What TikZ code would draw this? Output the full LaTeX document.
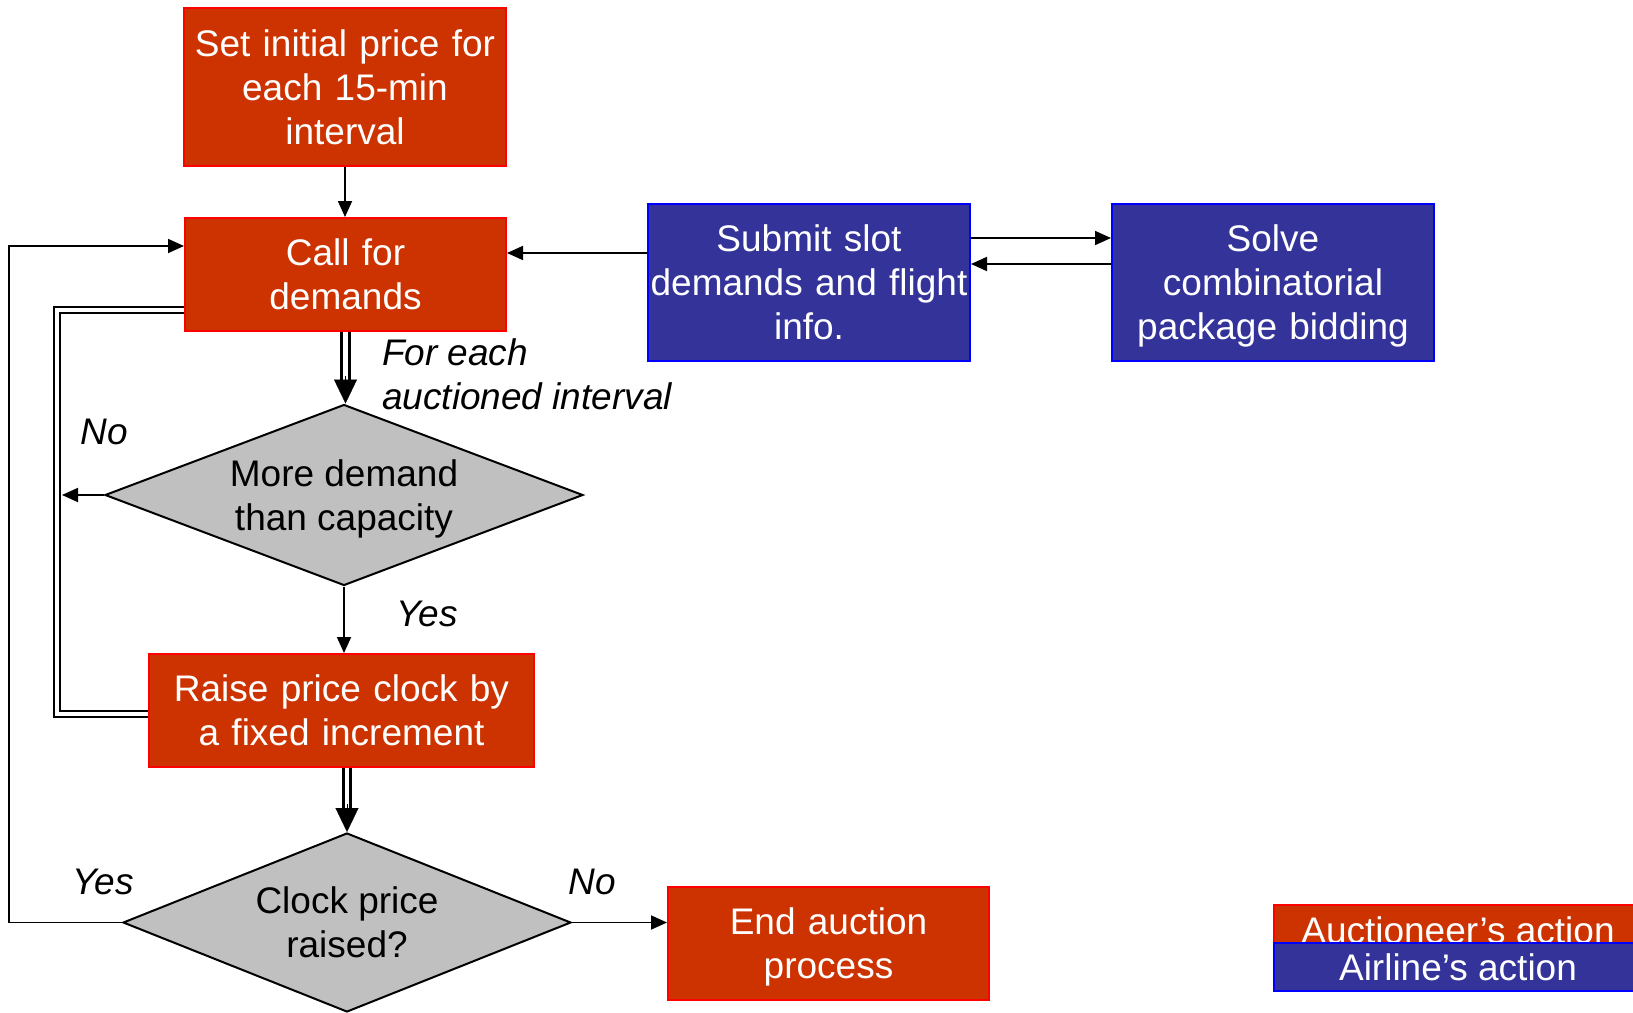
\documentclass[tikz,border=0pt]{standalone}
\usepackage{fontspec}
\setmainfont{Liberation Sans}
\usetikzlibrary{arrows.meta,shapes.geometric}
\definecolor{auctred}{HTML}{CC3300}
\definecolor{airblue}{HTML}{333399}
\definecolor{decgray}{HTML}{C0C0C0}
% last line without depth, so descenders do not lift the text block
\newcommand\nodp[1]{\raisebox{0pt}[\height][0pt]{#1}}
\tikzset{
  txt/.style={font=\fontsize{18.5}{22}\selectfont},
  redbox/.style={txt, rectangle, fill=auctred, draw=red, line width=1pt,
    text=white, align=center, inner sep=1pt},
  bluebox/.style={txt, rectangle, fill=airblue, draw=blue, line width=1pt,
    text=white, align=center, inner sep=1pt},
  decision/.style={txt, diamond, fill=decgray, draw=black, line width=1pt,
    align=center, inner sep=0pt, shape aspect=2.6},
  conn/.style={line width=0.9pt, -{Triangle[length=8pt,width=7pt]}},
  dblline/.style={double, double distance=2.2pt, line width=0.85pt},
  dblshaft/.style={double, double distance=2.3pt, line width=1.4pt},
  bigtip/.style={line width=0.1pt, -{Triangle[length=12pt,width=11.5pt]}},
  lbl/.style={txt, font=\fontsize{18.5}{22}\selectfont\itshape}
}
\begin{document}
\begin{tikzpicture}[x=0.5pt,y=-0.5pt]
\clip (0,0) rectangle (1633,1012);

% process boxes
\node[redbox, minimum width=161pt, minimum height=79pt, text width=157pt] (b1) at (345,87)
  {Set initial price for\\each 15-min\\interval};
\node[redbox, minimum width=160.5pt, minimum height=56.5pt, text width=157pt] (b2) at (345.5,274.5)
  {Call for\\demands};
\node[bluebox, minimum width=161pt, minimum height=78.5pt, text width=159pt] (sub) at (809,282.5)
  {Submit slot\\demands and flight\\info.};
\node[bluebox, minimum width=161pt, minimum height=78.5pt, text width=159pt] (sol) at (1273,282.5)
  {Solve\\combinatorial\\\nodp{package bidding}};
\node[decision, minimum width=239pt, minimum height=90.5pt] (d1) at (344,495)
  {More demand\\\nodp{than capacity}};
\node[redbox, minimum width=192.5pt, minimum height=56.5pt, text width=189pt] (raise) at (341.5,710.5)
  {Raise price clock by\\a fixed increment};
\node[decision, minimum width=224pt, minimum height=89.5pt] (d2) at (347,922.5)
  {Clock price\\raised?};
\node[redbox, minimum width=160.5pt, minimum height=56.5pt, text width=157pt] (endb) at (828.5,943.5)
  {End auction\\\nodp{process}};

% legend
\node[redbox, anchor=north west, minimum width=184pt, minimum height=25pt] (legA) at (1273,904)
  {Auctioneer’s action};
\node[bluebox, anchor=north west, minimum width=184pt, minimum height=24pt] (legB) at (1273,942)
  {Airline’s action};

% branch labels
\node[lbl] (no1) at (104,432) {No};
\node[lbl] (yes1) at (427,614) {Yes};
\node[lbl] (yes2) at (103,882) {Yes};
\node[lbl] (no2) at (592,882) {No};
\node[lbl, align=left, anchor=west] (each) at (375,374) {For each\\auctioned interval};

% helper coordinates for the loop lines
\coordinate (busedge) at (62,0);
\coordinate (busline) at (57,714);
\coordinate (outer) at (9,0);

% single connectors
\draw[conn] (b1.south) -- (b1.south |- b2.north);
\draw[conn] ([yshift=14.75pt]sub.west) -- ([yshift=14.75pt]sub.west -| b2.east);
\draw[conn] ([yshift=22.25pt]sub.east) -- ([yshift=22.25pt]sub.east -| sol.west);
\draw[conn] ([yshift=9.25pt]sol.west) -- ([yshift=9.25pt]sol.west -| sub.east);
\draw[conn] (d1.south) -- (d1.south |- raise.north);
\draw[conn] (d2.east) -- (d2.east -| endb.west);
\draw[conn] (d1.west) -- (d1.west -| busedge);
\draw[conn] (d2.west) -- (d2.west -| outer) |- ([yshift=14.25pt]b2.west);

% double connectors
\draw[dblshaft] (b2.south) -- ([yshift=10pt]b2.south |- d1.north);
\draw[bigtip] ([yshift=14pt]b2.south |- d1.north) -- (b2.south |- d1.north);
\draw[dblshaft] (raise.south -| d2.north) -- ([yshift=10pt]d2.north);
\draw[bigtip] ([yshift=14pt]d2.north) -- (d2.north);
\draw[dblline] ([yshift=-17.75pt]b2.west) -| (busline) -- ([yshift=-1.75pt]raise.west);
\end{tikzpicture}
\end{document}
